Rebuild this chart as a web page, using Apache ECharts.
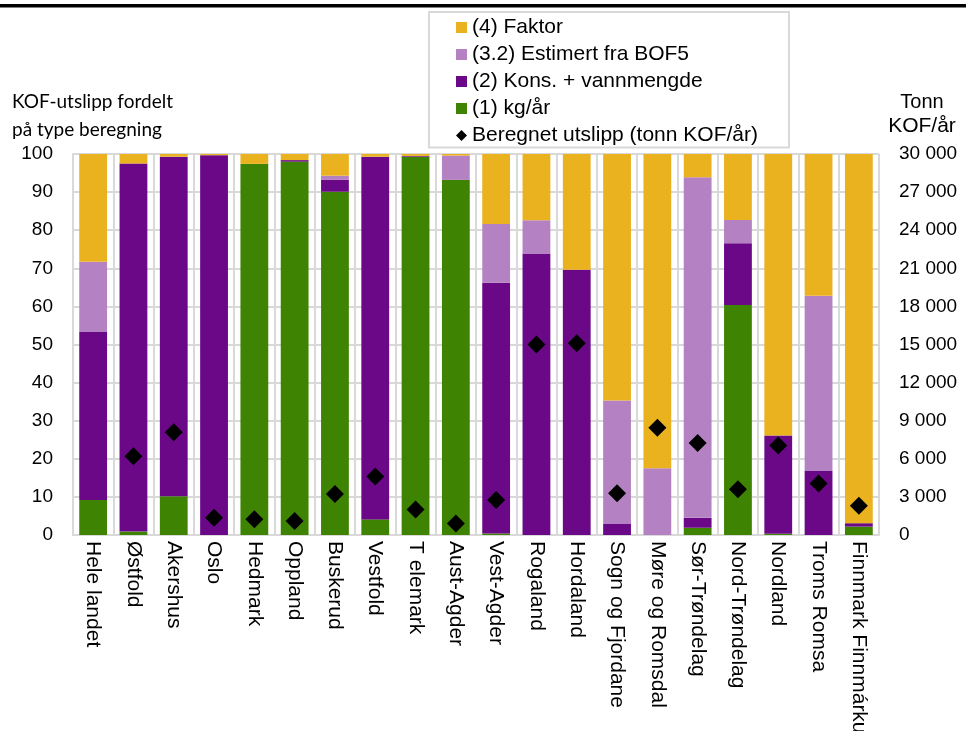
<!DOCTYPE html>
<html>
<head>
<meta charset="utf-8">
<script src="https://cdn.jsdelivr.net/npm/echarts@6/dist/echarts.min.js"></script>
<style>
  html, body { margin: 0; padding: 0; background: #fff; }
  #chart { width: 966px; height: 731px; }
</style>
</head>
<body>
<div id="chart"></div>
<script>
// Fylker
const categories = ['Hele landet', 'Østfold', 'Akershus', 'Oslo', 'Hedmark', 'Oppland', 'Buskerud',
  'Vestfold', 'T elemark', 'Aust-Agder', 'Vest-Agder', 'Rogaland', 'Hordaland', 'Sogn og Fjordane',
  'Møre og Romsdal', 'Sør-Trøndelag', 'Nord-Trøndelag', 'Nordland', 'Troms Romsa', 'Finnmark Finnmárku'];

// Andel av KOF-utslipp (%) per beregningstype
const kgAar    = [9.2, 0.9, 10.2, 0, 97.4, 98.0, 90.1, 4.1, 99.3, 93.2, 0.4, 0, 0, 0, 0, 1.9, 60.4, 0.3, 0, 2.2];
const kons     = [44.2, 96.6, 89.1, 99.7, 0, 0.4, 3.1, 95.2, 0.2, 0, 65.8, 73.9, 69.6, 2.9, 0, 2.6, 16.2, 25.8, 16.9, 0.9];
const estimert = [18.3, 0, 0, 0, 0, 0, 1.1, 0, 0, 6.4, 15.4, 8.7, 0, 32.4, 17.5, 89.4, 6.1, 0, 45.9, 0];
const faktor   = [28.3, 2.5, 0.7, 0.3, 2.6, 1.6, 5.7, 0.7, 0.5, 0.4, 18.4, 17.4, 30.4, 64.7, 82.5, 6.1, 17.3, 73.9, 37.2, 96.9];

// Beregnet utslipp (tonn KOF/år)
const utslipp  = [null, 6200, 8100, 1350, 1250, 1100, 3230, 4600, 2000, 900, 2750, 15000, 15100, 3280, 8450, 7250, 3600, 7050, 4050, 2300];

// Aksemerker
const pctTicks = { min: 0, max: 100, interval: 10 };
const tonnTicks = { min: 0, max: 30000, interval: 3000 };

const FONT = '"Liberation Sans", Arial, sans-serif';
const TITLE_FONT = 'Lato, "Liberation Sans", sans-serif';
const GRID = '#d9d9d9';
const colors = { kg: '#3e8402', kons: '#6a0888', est: '#b482c2', fak: '#ebb220' };

const chart = echarts.init(document.getElementById('chart'), null, { renderer: 'canvas' });

function thousands(v) {
  return String(v).replace(/\B(?=(\d{3})+(?!\d))/g, ' ');
}

function barSeries(name, data, color) {
  return {
    name, type: 'bar', stack: 'andel', data,
    barCategoryGap: '31%',
    itemStyle: { color },
    emphasis: { disabled: true }
  };
}

function label(text, x, y, font, align) {
  return { type: 'text', x, y, style: { text, font, fill: '#000', align, verticalAlign: 'middle' } };
}

chart.setOption({
  animation: false,
  textStyle: { fontFamily: FONT },
  grid: { left: 73, right: 87, top: 154, bottom: 196, containLabel: false, outerBoundsMode: 'none' },
  graphic: [
    { type: 'rect', shape: { x: 0, y: 4, width: 966, height: 3.5 }, style: { fill: '#000' } },
    { type: 'rect', shape: { x: 429, y: 12, width: 360, height: 135.5 }, style: { fill: '#fff', stroke: GRID, lineWidth: 2 } },
    label('KOF-utslipp fordelt', 12, 102, '19px ' + TITLE_FONT, 'left'),
    label('på type beregning', 12, 130, '19px ' + TITLE_FONT, 'left'),
    label('Tonn', 922, 102, '20px ' + FONT, 'center'),
    label('KOF/år', 922, 126.5, '21px ' + FONT, 'center')
  ],
  legend: {
    orient: 'vertical',
    left: 456, top: 17,
    padding: 0,
    itemWidth: 11, itemHeight: 11,
    itemGap: 6,
    textStyle: { fontSize: 21, color: '#000', fontFamily: FONT },
    data: [
      { name: '(4) Faktor', icon: 'rect' },
      { name: '(3.2) Estimert fra BOF5', icon: 'rect' },
      { name: '(2) Kons. + vannmengde', icon: 'rect' },
      { name: '(1) kg/år', icon: 'rect' },
      { name: 'Beregnet utslipp (tonn KOF/år)', icon: 'diamond', itemStyle: { color: '#000', opacity: 1 } }
    ]
  },
  xAxis: {
    type: 'category',
    data: categories,
    boundaryGap: true,
    axisLine: { show: true, lineStyle: { color: GRID, width: 2 } },
    axisTick: { show: false },
    splitLine: { show: true, lineStyle: { color: GRID, width: 2 } },
    axisLabel: { rotate: -90, fontSize: 21, color: '#000', margin: 6, interval: 0, fontFamily: FONT }
  },
  yAxis: [
    {
      type: 'value', ...pctTicks,
      axisLine: { show: true, lineStyle: { color: GRID, width: 2 } },
      axisTick: { show: false },
      splitLine: { show: true, lineStyle: { color: GRID, width: 2 } },
      axisLabel: { fontSize: 19, color: '#000', margin: 20, fontFamily: FONT }
    },
    {
      type: 'value', ...tonnTicks,
      position: 'right',
      axisLine: { show: false },
      axisTick: { show: false },
      splitLine: { show: false },
      axisLabel: { fontSize: 19, color: '#000', margin: 20, fontFamily: FONT, formatter: thousands }
    }
  ],
  series: [
    barSeries('(1) kg/år', kgAar, colors.kg),
    barSeries('(2) Kons. + vannmengde', kons, colors.kons),
    barSeries('(3.2) Estimert fra BOF5', estimert, colors.est),
    barSeries('(4) Faktor', faktor, colors.fak),
    {
      name: 'Beregnet utslipp (tonn KOF/år)',
      type: 'scatter',
      yAxisIndex: 1,
      data: utslipp,
      symbol: 'diamond',
      symbolSize: 18,
      itemStyle: { color: '#000', opacity: 1 },
      z: 5,
      emphasis: { disabled: true }
    }
  ]
});
</script>
</body>
</html>
